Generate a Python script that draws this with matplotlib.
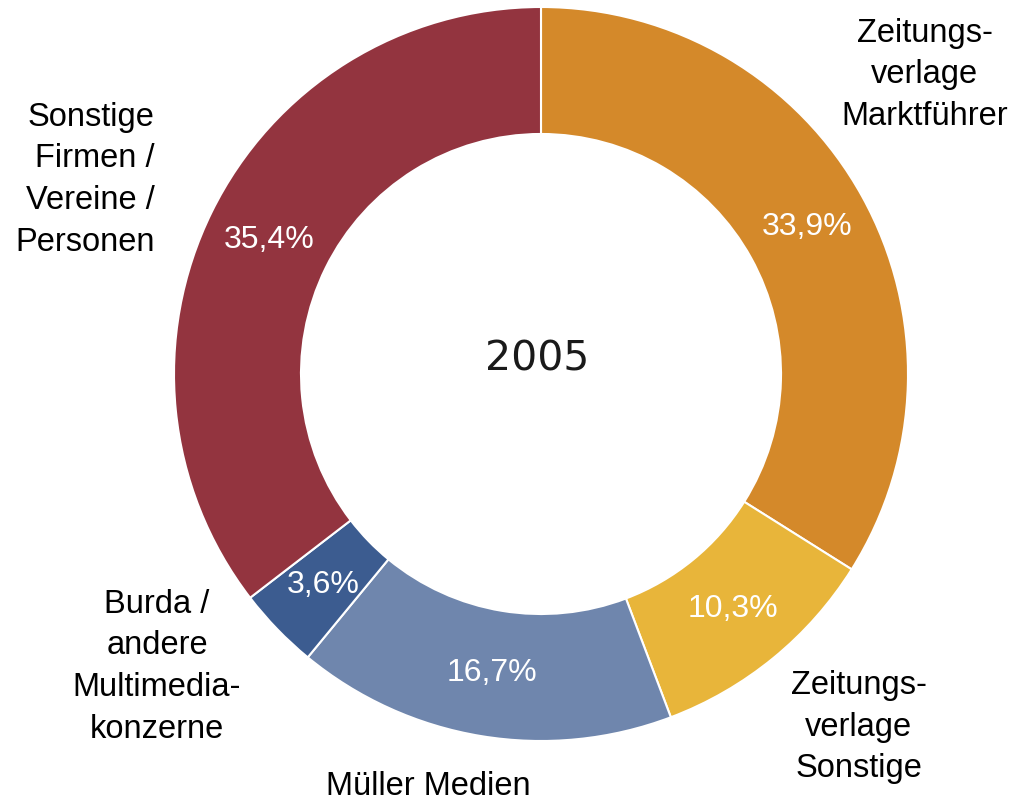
import matplotlib
matplotlib.use("Agg")
import matplotlib.pyplot as plt

categories = ["Zeitungs-\nverlage\nMarktführer", "Zeitungs-\nverlage\nSonstige",
              "Müller Medien", "Burda /\nandere\nMultimedia-\nkonzerne",
              "Sonstige\nFirmen /\nVereine /\nPersonen"]
values = [33.9, 10.3, 16.7, 3.6, 35.4]
pct_labels = ["33,9%", "10,3%", "16,7%", "3,6%", "35,4%"]
colors = ["#D4892A", "#E8B53A", "#6F86AD", "#3C5C90", "#93343F"]
center_label = "2005"

# label placement (data units, radius=1) and alignment
label_pos = [(1.046, 0.815), (0.866, -0.962), (-0.308, -1.123), (-1.046, -0.798), (-1.052, 0.529)]
label_ha = ["center", "center", "center", "center", "right"]

plt.rcParams['font.family'] = ['Liberation Sans', 'DejaVu Sans']

W, H = 1011, 801
fig = plt.figure(figsize=(W / 100, H / 100), dpi=100)
ax = fig.add_axes([0, 0, 1, 1])
R = 367.0
cx, cy = 541.0, 374.0

wedges, texts = ax.pie(values, colors=colors, startangle=90, counterclock=False,
                       radius=1.0, labels=pct_labels, labeldistance=0.827,
                       wedgeprops=dict(width=0.346, edgecolor='white', linewidth=1.5),
                       textprops=dict(color='white', fontsize=23, ha='center', va='center'),
                       frame=True)
ax.set_xlim(-cx / R, (W - cx) / R)
ax.set_ylim(-(H - cy) / R, cy / R)
ax.set_aspect('auto')
ax.axis('off')
for t in texts:
    t.set_horizontalalignment('center')
    t.set_verticalalignment('center')

for lab, (x, y), ha in zip(categories, label_pos, label_ha):
    ax.text(x, y, lab, ha=ha, va='center', multialignment=ha, fontsize=23.5,
            color='black', linespacing=1.45)

ax.text(-0.01, 0.04, center_label, ha='center', va='center', fontsize=29.5,
        color='#1a1a1a', family='DejaVu Sans')

fig.savefig("out.png", dpi=100, facecolor='white')
